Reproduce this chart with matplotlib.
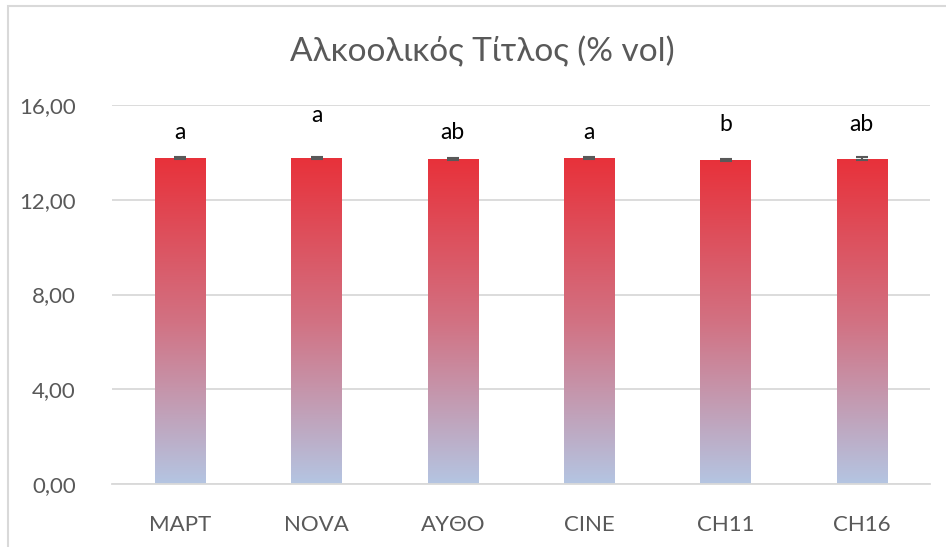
import numpy as np
import matplotlib
matplotlib.use("Agg")
import matplotlib.pyplot as plt
from matplotlib.colors import LinearSegmentedColormap
from matplotlib.patches import Rectangle
from matplotlib.ticker import FuncFormatter

categories = ["MAPT", "NOVA", "ΑΥΘΟ", "CINE", "CH11", "CH16"]
values = [13.77, 13.77, 13.73, 13.77, 13.68, 13.73]
errors = [0.03, 0.03, 0.05, 0.03, 0.04, 0.06]
letters = ["a", "a", "ab", "a", "b", "ab"]
letter_y = [14.55, 15.29, 14.55, 14.55, 14.91, 14.91]
yticks = [0, 4, 8, 12, 16]
title = "Αλκοολικός Τίτλος (% vol)"

plt.rcParams['font.family'] = ['Lato', 'DejaVu Sans']

fig = plt.figure(figsize=(9.46, 5.47), dpi=100)
W, H = 946, 547
ax = fig.add_axes([112 / W, 1 - 484 / H, (930 - 112) / W, (484 - 105) / H])

cmap = LinearSegmentedColormap.from_list("g", ["#B4C5E2", "#D27182", "#E8313A"])
grad = np.linspace(0, 1, 256).reshape(-1, 1)
width = 0.367
x = np.arange(len(categories))
for xi, v in zip(x, values):
    r = Rectangle((xi - width / 2, 0), width, v, facecolor="none", edgecolor="none")
    ax.add_patch(r)
    im = ax.imshow(grad, extent=(xi - width / 2, xi + width / 2, 0, v), origin="lower",
                   cmap=cmap, aspect="auto", zorder=2)
    im.set_clip_path(r)

ax.errorbar(x, values, yerr=errors, fmt="none", ecolor="#595959", elinewidth=1.5,
            capsize=4.5, capthick=1.5, zorder=3)

for xi, t, ly in zip(x, letters, letter_y):
    ax.text(xi, ly, t, ha="center", va="baseline", fontsize=16.5, color="black")

ax.set_xlim(-0.5, len(categories) - 0.5)
ax.set_ylim(0, 16)
ax.set_yticks(yticks)
ax.yaxis.set_major_formatter(FuncFormatter(lambda v, p: f"{v:.2f}".replace(".", ",")))
ax.set_xticks(x)
ax.set_xticklabels(categories)
ax.tick_params(axis="both", length=0, labelsize=16, labelcolor="#595959")
ax.tick_params(axis="y", pad=26)
ax.tick_params(axis="x", pad=22)
ax.grid(axis="y", color="#D9D9D9", linewidth=1.3, zorder=0)
ax.set_axisbelow(True)
for s in ["top", "right", "left"]:
    ax.spines[s].set_visible(False)
ax.spines["bottom"].set_color("#D9D9D9")
ax.spines["bottom"].set_linewidth(1.3)

fig.text(482 / W, 1 - 52 / H, title, ha="center", va="center", fontsize=24, color="#595959")

border = Rectangle((8 / W, -0.1), 1.2, 1 - 6 / H + 0.1, transform=fig.transFigure,
                   fill=False, edgecolor="#D9D9D9", linewidth=1.5)
fig.patches.append(border)

fig.savefig("out.png", dpi=100)
